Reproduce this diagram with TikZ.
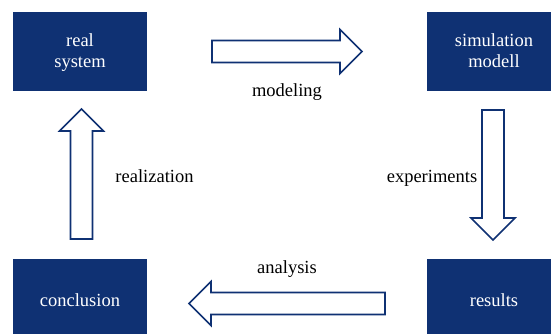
\documentclass[tikz,border=0pt]{standalone}
\usepackage{fontspec}
\setmainfont{Liberation Serif}
\definecolor{navy}{RGB}{15,49,115}
\begin{document}
\begin{tikzpicture}[x=1pt,y=-1pt,
  box/.style={rectangle,fill=navy,draw=none,minimum width=134pt,minimum height=79pt,inner sep=0pt},
  boxtext/.style={anchor=base,inner sep=0pt,text=white,align=center,font=\fontsize{18.5}{21}\selectfont},
  lbl/.style={anchor=base,inner sep=0pt,text=black,font=\fontsize{18.5}{21}\selectfont},
  blockarrow/.style={draw=navy,line width=1.6pt,fill=white,line join=miter}]
\useasboundingbox (0,0) rectangle (551,334);
\clip (0,0) rectangle (551,334);
\node[box] (real) at (80,51.5) {};
\node[box] (sim) at (494,51.5) {};
\node[box] (concl) at (80,298.5) {};
\node[box] (res) at (494,298.5) {};
\node[boxtext] (realt) at (80,68) {real\\system};
\node[boxtext] (simt) at (494,68) {simulation\\modell};
\node[boxtext] (conclt) at (80,306) {conclusion};
\node[boxtext] (rest) at (494,306) {results};
% modeling arrow (right)
\draw[blockarrow] (212,40.5) -- (340,40.5) -- (340,29.5) -- (362,51.5) -- (340,73.5) -- (340,62.5) -- (212,62.5) -- cycle;
% experiments arrow (down)
\draw[blockarrow] (482,110) -- (504,110) -- (504,218) -- (515,218) -- (493,240) -- (471,218) -- (482,218) -- cycle;
% analysis arrow (left)
\draw[blockarrow] (385,292.5) -- (211,292.5) -- (211,281.5) -- (189,303.5) -- (211,325.5) -- (211,314.5) -- (385,314.5) -- cycle;
% realization arrow (up)
\draw[blockarrow] (70.5,239) -- (70.5,131) -- (59.5,131) -- (81.5,109) -- (103.5,131) -- (92.5,131) -- (92.5,239) -- cycle;
\node[lbl] (lmod) at (287,97) {modeling};
\node[lbl] (lexp) at (432,182) {experiments};
\node[lbl] (lrea) at (154.5,182) {realization};
\node[lbl] (lana) at (287,273) {analysis};
\end{tikzpicture}
\end{document}
